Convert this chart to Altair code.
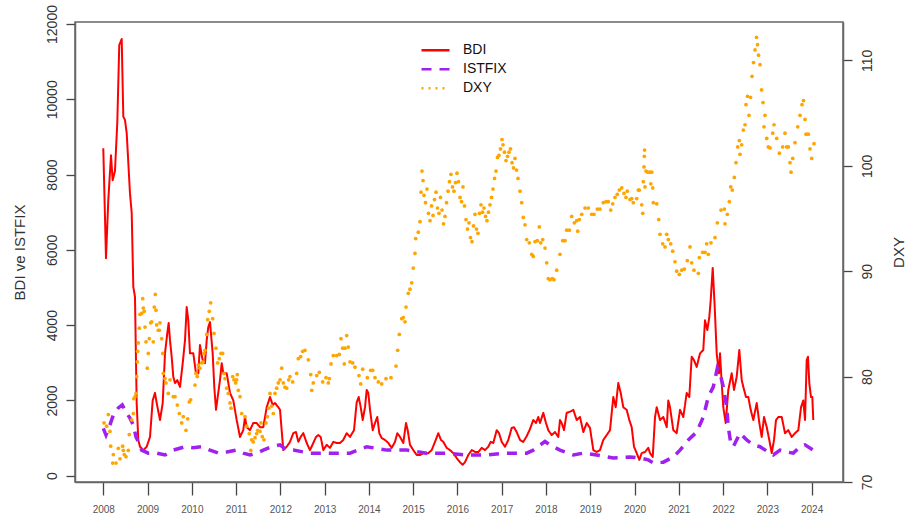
import altair as alt
import pandas as pd

# ---- series values (time in decimal years) ----
bdi_t = [2008.000, 2008.061, 2008.113, 2008.174, 2008.212, 2008.264, 2008.316, 2008.361, 2008.416, 2008.452,
         2008.490, 2008.529, 2008.603, 2008.642, 2008.678, 2008.716, 2008.754, 2008.791, 2008.829, 2008.904,
         2008.980, 2009.055, 2009.116, 2009.168, 2009.206, 2009.281, 2009.342, 2009.394, 2009.446, 2009.477,
         2009.507, 2009.545, 2009.581, 2009.620, 2009.672, 2009.733, 2009.794, 2009.846, 2009.884, 2009.920,
         2009.958, 2010.033, 2010.094, 2010.146, 2010.184, 2010.245, 2010.297, 2010.336, 2010.372, 2010.410,
         2010.471, 2010.507, 2010.546, 2010.584, 2010.636, 2010.675, 2010.711, 2010.788, 2010.862, 2010.937,
         2011.013, 2011.088, 2011.162, 2011.201, 2011.239, 2011.314, 2011.388, 2011.465, 2011.540, 2011.614,
         2011.691, 2011.766, 2011.827, 2011.879, 2011.953, 2011.992, 2012.066, 2012.143, 2012.217, 2012.292,
         2012.353, 2012.405, 2012.459, 2012.518, 2012.595, 2012.669, 2012.744, 2012.805, 2012.857, 2012.911,
         2012.970, 2013.046, 2013.121, 2013.196, 2013.272, 2013.347, 2013.421, 2013.498, 2013.573, 2013.663,
         2013.724, 2013.769, 2013.815, 2013.860, 2013.912, 2013.950, 2013.986, 2014.025, 2014.086, 2014.138,
         2014.189, 2014.235, 2014.289, 2014.363, 2014.438, 2014.515, 2014.589, 2014.641, 2014.702, 2014.777,
         2014.838, 2014.876, 2014.928, 2015.003, 2015.079, 2015.154, 2015.229, 2015.341, 2015.418, 2015.493,
         2015.567, 2015.628, 2015.680, 2015.757, 2015.832, 2015.906, 2015.983, 2016.057, 2016.118, 2016.170,
         2016.245, 2016.322, 2016.396, 2016.471, 2016.548, 2016.622, 2016.697, 2016.751, 2016.810, 2016.887,
         2016.939, 2017.000, 2017.074, 2017.149, 2017.225, 2017.277, 2017.338, 2017.413, 2017.487, 2017.564,
         2017.639, 2017.713, 2017.774, 2017.826, 2017.864, 2017.939, 2018.000, 2018.052, 2018.129, 2018.203,
         2018.278, 2018.316, 2018.354, 2018.407, 2018.467, 2018.542, 2018.617, 2018.694, 2018.768, 2018.843,
         2018.920, 2018.994, 2019.069, 2019.145, 2019.220, 2019.294, 2019.371, 2019.446, 2019.520, 2019.575,
         2019.633, 2019.688, 2019.746, 2019.823, 2019.882, 2019.936, 2019.988, 2020.049, 2020.108, 2020.162,
         2020.237, 2020.311, 2020.350, 2020.411, 2020.463, 2020.501, 2020.576, 2020.650, 2020.727, 2020.763,
         2020.801, 2020.876, 2020.952, 2021.027, 2021.102, 2021.178, 2021.237, 2021.291, 2021.343, 2021.404,
         2021.479, 2021.553, 2021.592, 2021.644, 2021.689, 2021.721, 2021.766, 2021.811, 2021.856, 2021.908,
         2021.931, 2021.969, 2022.005, 2022.060, 2022.118, 2022.195, 2022.247, 2022.308, 2022.367, 2022.421,
         2022.457, 2022.518, 2022.570, 2022.624, 2022.683, 2022.760, 2022.819, 2022.873, 2022.925, 2022.986,
         2023.044, 2023.099, 2023.151, 2023.196, 2023.248, 2023.325, 2023.399, 2023.474, 2023.550, 2023.625,
         2023.700, 2023.761, 2023.812, 2023.851, 2023.889, 2023.918, 2023.948, 2023.986, 2024.016, 2024.038]
bdi_v = [8700, 5780, 7320, 8510, 7850, 8100, 9370, 11440, 11600, 9540,
         9450, 9100, 7500, 6980, 5020, 4750, 1930, 950, 770, 680,
         770, 1030, 2000, 2200, 1930, 1480, 1930, 3250, 3790, 4060,
         3600, 3160, 2630, 2460, 2540, 2360, 2990, 3600, 4480, 4130,
         3250, 3250, 2720, 2720, 3470, 3070, 2990, 3600, 3950, 4080,
         3250, 2360, 1750, 2090, 2540, 2990, 2720, 2720, 2200, 2000,
         1480, 1030, 1210, 1560, 1290, 1210, 1400, 1400, 1290, 1290,
         1820, 2090, 1880, 1930, 1820, 1750, 680, 770, 900, 1130,
         1160, 900, 1030, 1130, 870, 680, 870, 1030, 1080, 1030,
         680, 820, 740, 900, 870, 870, 950, 1130, 1030, 1210,
         1950, 2090, 1820, 1480, 1820, 2280, 2200, 1750, 1210, 1400,
         1560, 1130, 1000, 950, 870, 740, 900, 1130, 1030, 870,
         1400, 1210, 820, 680, 550, 550, 600, 600, 680, 900,
         1130, 950, 900, 740, 680, 600, 470, 360, 290, 360,
         550, 680, 630, 630, 740, 680, 770, 900, 870, 1210,
         1130, 900, 770, 950, 1270, 1290, 1160, 950, 900, 1050,
         1240, 1480, 1400, 1560, 1400, 1670, 1400, 1210, 1080, 1160,
         1030, 1480, 1400, 1210, 1670, 1700, 1750, 1480, 1560, 1160,
         1400, 1270, 680, 630, 680, 950, 1080, 1210, 2090, 1820,
         2460, 2200, 1820, 1750, 1480, 1290, 770, 600, 420, 600,
         630, 740, 600, 500, 1560, 1820, 1480, 1560, 1290, 2000,
         1820, 1210, 1130, 1750, 1560, 2200, 2090, 3160, 3070, 2890,
         3250, 3340, 4130, 3870, 4210, 4670, 5520, 4490, 3250, 2720,
         3250, 2460, 1820, 1400, 2280, 2720, 2280, 2630, 3340, 2540,
         2360, 2090, 2090, 1750, 1480, 1930, 1400, 1030, 1560, 1290,
         950, 600, 950, 1480, 1560, 1560, 1130, 1210, 1030, 1130,
         1210, 1820, 2000, 1480, 3070, 3160, 2460, 2090, 2090, 1480]

ist_t = [2008.000, 2008.061, 2008.151, 2008.226, 2008.339, 2008.429, 2008.513, 2008.603, 2008.678, 2008.739,
         2008.791, 2008.867, 2009.017, 2009.206, 2009.394, 2009.581, 2009.846, 2010.033, 2010.223, 2010.410,
         2010.598, 2010.788, 2011.013, 2011.162, 2011.314, 2011.465, 2011.614, 2011.804, 2011.992, 2012.143,
         2012.292, 2012.669, 2013.121, 2013.573, 2013.950, 2014.402, 2014.854, 2015.306, 2015.757, 2016.209,
         2016.661, 2017.113, 2017.564, 2017.713, 2017.978, 2018.090, 2018.316, 2018.617, 2018.843, 2019.145,
         2019.520, 2019.897, 2020.123, 2020.311, 2020.424, 2020.650, 2020.876, 2021.027, 2021.215, 2021.404,
         2021.553, 2021.666, 2021.779, 2021.870, 2021.931, 2022.005, 2022.082, 2022.118, 2022.173, 2022.231,
         2022.383, 2022.534, 2022.683, 2022.834, 2023.022, 2023.135, 2023.286, 2023.437, 2023.587, 2023.738,
         2023.851, 2024.038]
ist_v = [1260, 1080, 1350, 1610, 1800, 1880, 1690, 1530, 1350, 1030,
         900, 680, 600, 600, 550, 680, 770, 740, 770, 680,
         600, 630, 680, 600, 550, 600, 680, 770, 820, 680,
         680, 600, 600, 600, 770, 680, 680, 600, 600, 550,
         550, 600, 600, 680, 910, 820, 680, 550, 600, 550,
         470, 500, 470, 420, 340, 360, 500, 680, 950, 1160,
         1560, 2090, 2360, 2860, 2720, 2360, 1820, 1290, 870, 770,
         1130, 950, 820, 770, 630, 550, 680, 630, 600, 770,
         820, 680]

dxy_t = [2008.016, 2008.077, 2008.113, 2008.151, 2008.167, 2008.212, 2008.226, 2008.287, 2008.339, 2008.377,
         2008.438, 2008.452, 2008.474, 2008.513, 2008.565, 2008.587, 2008.642, 2008.678, 2008.689, 2008.716,
         2008.739, 2008.754, 2008.768, 2008.777, 2008.791, 2008.813, 2008.829, 2008.867, 2008.890, 2008.904,
         2008.926, 2008.942, 2008.965, 2008.994, 2009.017, 2009.039, 2009.071, 2009.093, 2009.129, 2009.152,
         2009.175, 2009.190, 2009.206, 2009.242, 2009.265, 2009.281, 2009.319, 2009.342, 2009.355, 2009.394,
         2009.416, 2009.468, 2009.507, 2009.581, 2009.620, 2009.672, 2009.717, 2009.771, 2009.807, 2009.868,
         2009.907, 2009.943, 2009.974, 2010.071, 2010.094, 2010.123, 2010.146, 2010.184, 2010.223, 2010.259,
         2010.275, 2010.297, 2010.336, 2010.358, 2010.394, 2010.426, 2010.471, 2010.501, 2010.546, 2010.584,
         2010.620, 2010.659, 2010.697, 2010.726, 2010.749, 2010.788, 2010.824, 2010.862, 2010.885, 2010.923,
         2010.952, 2010.991, 2011.013, 2011.027, 2011.050, 2011.088, 2011.126, 2011.201, 2011.239, 2011.298,
         2011.330, 2011.352, 2011.388, 2011.427, 2011.465, 2011.488, 2011.540, 2011.562, 2011.592, 2011.630,
         2011.675, 2011.705, 2011.736, 2011.766, 2011.804, 2011.840, 2011.879, 2011.917, 2011.953, 2011.992,
         2012.030, 2012.066, 2012.104, 2012.143, 2012.188, 2012.217, 2012.278, 2012.369, 2012.405, 2012.459,
         2012.504, 2012.556, 2012.631, 2012.685, 2012.708, 2012.744, 2012.821, 2012.879, 2012.956, 2013.031,
         2013.083, 2013.105, 2013.144, 2013.196, 2013.272, 2013.331, 2013.369, 2013.408, 2013.444, 2013.460,
         2013.498, 2013.534, 2013.573, 2013.634, 2013.686, 2013.776, 2013.814, 2013.860, 2013.964, 2014.040,
         2014.086, 2014.138, 2014.212, 2014.289, 2014.386, 2014.499, 2014.612, 2014.650, 2014.686, 2014.741,
         2014.777, 2014.815, 2014.838, 2014.890, 2014.928, 2014.967, 2015.003, 2015.041, 2015.057, 2015.116,
         2015.154, 2015.177, 2015.199, 2015.222, 2015.245, 2015.278, 2015.312, 2015.346, 2015.380, 2015.414,
         2015.448, 2015.482, 2015.516, 2015.549, 2015.583, 2015.617, 2015.651, 2015.685, 2015.719, 2015.753,
         2015.787, 2015.820, 2015.854, 2015.888, 2015.922, 2015.956, 2015.990, 2016.024, 2016.058, 2016.091,
         2016.125, 2016.159, 2016.193, 2016.227, 2016.261, 2016.295, 2016.329, 2016.363, 2016.396, 2016.430,
         2016.464, 2016.498, 2016.532, 2016.566, 2016.600, 2016.634, 2016.667, 2016.701, 2016.735, 2016.769,
         2016.803, 2016.837, 2016.871, 2016.905, 2016.938, 2016.972, 2017.006, 2017.029, 2017.063, 2017.097,
         2017.131, 2017.165, 2017.198, 2017.232, 2017.266, 2017.300, 2017.334, 2017.368, 2017.413, 2017.451,
         2017.487, 2017.526, 2017.564, 2017.623, 2017.677, 2017.713, 2017.752, 2017.804, 2017.849, 2017.881,
         2017.926, 2017.978, 2018.016, 2018.052, 2018.090, 2018.142, 2018.181, 2018.242, 2018.316, 2018.377,
         2018.429, 2018.467, 2018.527, 2018.581, 2018.640, 2018.694, 2018.717, 2018.753, 2018.807, 2018.881,
         2018.956, 2019.033, 2019.084, 2019.159, 2019.220, 2019.294, 2019.356, 2019.407, 2019.462, 2019.507,
         2019.559, 2019.611, 2019.656, 2019.710, 2019.762, 2019.807, 2019.837, 2019.898, 2019.936, 2019.972,
         2020.049, 2020.085, 2020.108, 2020.162, 2020.185, 2020.198, 2020.214, 2020.221, 2020.228, 2020.236,
         2020.259, 2020.298, 2020.350, 2020.368, 2020.388, 2020.411, 2020.424, 2020.501, 2020.546, 2020.576,
         2020.637, 2020.688, 2020.727, 2020.763, 2020.817, 2020.862, 2020.914, 2020.952, 2021.011, 2021.066,
         2021.124, 2021.192, 2021.253, 2021.291, 2021.343, 2021.441, 2021.463, 2021.540, 2021.592, 2021.630,
         2021.666, 2021.727, 2021.818, 2021.870, 2021.953, 2022.028, 2022.044, 2022.096, 2022.141, 2022.173,
         2022.209, 2022.254, 2022.292, 2022.331, 2022.367, 2022.383, 2022.421, 2022.457, 2022.496, 2022.518,
         2022.552, 2022.586, 2022.620, 2022.654, 2022.688, 2022.722, 2022.755, 2022.778, 2022.801, 2022.835,
         2022.869, 2022.902, 2022.925, 2022.948, 2022.986, 2023.022, 2023.061, 2023.122, 2023.151, 2023.212,
         2023.271, 2023.347, 2023.399, 2023.437, 2023.474, 2023.512, 2023.535, 2023.573, 2023.625, 2023.686,
         2023.738, 2023.783, 2023.817, 2023.851, 2023.874, 2023.925, 2023.964, 2024.002, 2024.054]
dxy_v = [75.6, 75.3, 76.4, 74.8, 73.4, 71.8, 72.6, 71.8, 73.2, 72.2,
         73.4, 73.0, 72.6, 72.4, 73.0, 74.5, 75.9, 76.5, 77.9, 78.1,
         78.4, 80.0, 81.4, 82.4, 83.2, 84.6, 85.9, 86.0, 87.4, 86.5,
         86.2, 84.7, 83.3, 80.8, 82.2, 83.6, 85.1, 85.2, 83.3, 86.6,
         87.8, 86.3, 84.9, 84.4, 84.4, 85.1, 83.6, 82.2, 80.3, 79.8,
         79.4, 78.4, 79.7, 78.1, 78.1, 77.3, 76.5, 75.6, 76.2, 74.9,
         76.0, 77.6, 77.8, 79.2, 80.3, 80.0, 81.1, 80.8, 81.3, 81.4,
         82.2, 82.5, 84.0, 85.4, 86.2, 87.0, 85.5, 84.1, 82.7, 81.3,
         81.7, 82.2, 82.2, 80.3, 79.8, 78.9, 78.4, 77.5, 77.0, 80.0,
         79.7, 79.4, 79.7, 80.2, 78.7, 78.1, 76.5, 76.2, 75.3, 74.6,
         73.0, 74.0, 73.8, 74.2, 74.6, 74.9, 74.8, 75.6, 74.3, 74.0,
         75.6, 76.2, 77.0, 78.4, 77.2, 76.5, 78.4, 78.9, 79.4, 79.7,
         80.8, 79.4, 79.0, 78.9, 79.7, 80.0, 79.5, 80.3, 81.7, 81.9,
         82.4, 82.5, 81.6, 80.2, 78.7, 79.4, 80.1, 80.4, 79.5, 79.9,
         79.4, 79.8, 81.2, 82.0, 82.0, 82.1, 83.6, 82.7, 81.2, 82.7,
         83.9, 82.8, 81.4, 81.3, 80.9, 80.1, 79.3, 80.7, 79.9, 80.6,
         80.6, 79.9, 79.5, 79.3, 79.8, 79.9, 81.0, 82.5, 84.0, 85.5,
         85.6, 85.2, 86.6, 87.9, 88.3, 88.9, 90.3, 91.7, 93.1, 93.7,
         94.7, 97.5, 99.5, 98.6, 97.2, 96.5, 97.8, 95.5, 94.8, 96.2,
         95.3, 96.8, 97.5, 96.0, 95.5, 97.0, 95.8, 94.5, 95.2, 96.5,
         97.6, 98.5, 99.2, 98.0, 97.6, 98.4, 99.3, 98.5, 97.0, 96.6,
         98.0, 96.2, 94.9, 94.0, 94.6, 93.2, 92.8, 94.3, 95.4, 94.0,
         93.6, 95.5, 96.3, 95.6, 96.0, 95.2, 94.8, 95.6, 96.3, 97.0,
         97.8, 98.8, 99.5, 100.8, 101.0, 101.6, 102.5, 102.0, 101.3, 100.5,
         100.9, 101.3, 101.6, 100.3, 99.8, 100.7, 99.6, 98.8, 97.6, 96.5,
         95.1, 94.4, 93.0, 92.7, 91.6, 91.4, 92.8, 92.9, 94.2, 92.7,
         93.0, 92.2, 90.8, 89.3, 89.2, 89.3, 89.2, 90.1, 91.6, 92.9,
         92.9, 93.9, 93.9, 95.2, 94.6, 94.8, 93.8, 94.9, 95.4, 96.0,
         96.0, 95.4, 95.4, 95.9, 95.9, 96.5, 96.6, 96.6, 95.8, 96.4,
         97.0, 97.3, 97.7, 97.9, 97.4, 97.0, 97.6, 96.8, 96.9, 96.5,
         96.9, 97.7, 97.7, 96.3, 95.5, 98.5, 99.9, 100.9, 101.5, 98.0,
         99.5, 99.4, 99.4, 98.3, 99.4, 97.9, 96.5, 96.4, 94.9, 93.5,
         92.6, 92.3, 93.5, 93.0, 92.6, 91.9, 90.9, 90.0, 89.7, 90.1,
         90.2, 91.0, 92.3, 90.8, 90.1, 89.8, 91.3, 91.8, 91.8, 92.6,
         91.6, 92.7, 93.2, 94.6, 95.8, 95.9, 94.5, 95.4, 96.6, 98.0,
         97.7, 98.9, 100.3, 101.8, 102.4, 101.1, 102.0, 103.4, 103.9, 105.8,
         106.6, 104.8, 106.5, 108.5, 109.8, 111.0, 112.2, 111.5, 110.5, 109.6,
         107.2, 106.0, 103.7, 104.8, 102.6, 101.8, 101.7, 103.1, 103.9, 102.6,
         101.2, 101.8, 103.1, 101.8, 101.8, 100.3, 99.4, 100.7, 102.2, 103.7,
         104.8, 105.8, 106.2, 104.4, 103.0, 103.0, 101.6, 100.7, 102.1]

SERIES = ["BDI", "ISTFIX", "DXY"]
COLORS = ["#FF0000", "#A020F0", "#FFA500"]
DASHES = [[1, 0], [10, 8], [2, 5]]
YEARS = list(range(2008, 2025))
LEFT_TICKS = [0, 2000, 4000, 6000, 8000, 10000, 12000]
RIGHT_TICKS = [70, 80, 90, 100, 110]

bdi = pd.DataFrame({"t": bdi_t, "v": bdi_v, "s": "BDI"})
ist = pd.DataFrame({"t": ist_t, "v": ist_v, "s": "ISTFIX"})
dxy = pd.DataFrame({"t": dxy_t, "v": dxy_v, "s": "DXY"})

FONT = "Liberation Sans"

x_enc = alt.X(
    "t:Q",
    scale=alt.Scale(domain=[2007.361, 2024.709], nice=False, zero=False),
    axis=alt.Axis(values=YEARS, format="d", title=None, grid=False,
                  tickSize=13, labelPadding=9, labelFontSize=10, labelColor="#555555",
                  labelFlush=False, labelOverlap=False),
)
color_enc = alt.Color("s:N", scale=alt.Scale(domain=SERIES, range=COLORS),
                      legend=alt.Legend(title=None))
dash_enc = alt.StrokeDash("s:N", scale=alt.Scale(domain=SERIES, range=DASHES),
                          legend=alt.Legend(title=None))

# both value axes: labels run along the axis, reading bottom to top
side_axis = dict(grid=False, tickSize=9, labelAngle=270, labelAlign="center",
                 labelFontSize=14, labelColor="#333333", labelFlush=False, labelOverlap=False,
                 titleAngle=270, titleBaseline="alphabetic", titleFontSize=15,
                 titleFontWeight="normal", titleColor="#333333")

y_left = alt.Y(
    "v:Q",
    scale=alt.Scale(domain=[-167, 12053], nice=False, zero=False),
    axis=alt.Axis(orient="left", values=LEFT_TICKS, format="d", title="BDI ve ISTFIX",
                  titleX=-51, titleY=230, labelBaseline="alphabetic", labelPadding=10,
                  **side_axis),
)
y_right = alt.Y(
    "v:Q",
    scale=alt.Scale(domain=[70, 113.65], nice=False, zero=False),
    axis=alt.Axis(orient="right", values=RIGHT_TICKS, format="d", title="DXY",
                  titleX=60, titleY=230, labelBaseline="top", labelPadding=8,
                  **side_axis),
)

bdi_line = alt.Chart(bdi).mark_line(strokeWidth=2, strokeJoin="round").encode(
    x=x_enc, y=y_left, color=color_enc, strokeDash=dash_enc)
ist_line = alt.Chart(ist).mark_line(strokeWidth=3.5, strokeCap="butt").encode(
    x=x_enc, y=y_left, color=color_enc, strokeDash=dash_enc)
dxy_dots = alt.Chart(dxy).mark_circle(size=14, opacity=1).encode(
    x=x_enc, y=y_right, color=color_enc)

left = alt.layer(bdi_line, ist_line)
chart = (
    alt.layer(left, dxy_dots)
    .resolve_scale(y="independent")
    .properties(width=768, height=460,
                padding={"left": 75, "top": 22, "right": 66, "bottom": 40},
                autosize=alt.AutoSizeParams(type="none"))
    .configure(font=FONT)
    .configure_view(stroke="#666666", strokeWidth=1.5)
    .configure_axis(domainColor="#666666", domainWidth=1.5, tickColor="#444444", tickWidth=1.3,
                    labelFont=FONT, titleFont=FONT)
    .configure_legend(orient="none", legendX=345, legendY=19, symbolType="stroke",
                      symbolSize=784, symbolStrokeWidth=2.5, labelFontSize=14, labelColor="#111111",
                      labelOffset=12, clipHeight=18.5, rowPadding=0, padding=0, labelFont=FONT)
)

chart.save("out.html", embed_options={"renderer": "svg", "actions": False})
